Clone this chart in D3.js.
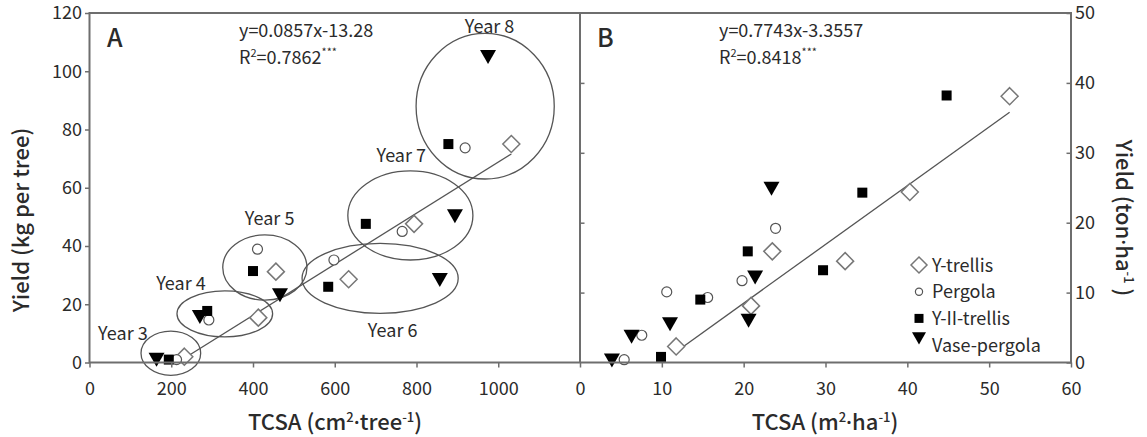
<!DOCTYPE html>
<html>
<head>
<meta charset="utf-8">
<script src="https://cdn.jsdelivr.net/npm/d3@7"></script>
<style>
  body { margin: 0; background: #fff; }
  svg text { font-family: "Noto Sans CJK KR", "Noto Sans", sans-serif; fill: #2b2b2b; }
</style>
</head>
<body>
<svg id="chart" width="1147" height="437"></svg>
<script>
// ---- data ----
// panel A: TCSA (cm2/tree) vs yield (kg/tree), years 3..8
const seriesNames = ['Y-trellis', 'Pergola', 'Y-II-trellis', 'Vase-pergola'];
const symbolKeys = ['diamond', 'circle', 'square', 'triangle'];

const aYtrellis = [[232, 2], [413, 15.4], [456, 31.2], [634, 28.6], [794, 47.6], [1032, 75]];
const aPergola = [[213, 1], [292, 14.6], [411, 38.9], [598, 35.2], [765, 45], [919, 73.7]];
const aYIItrellis = [[194, 1], [288, 17.7], [400, 31.4], [584, 26], [676, 47.6], [878, 75]];
const aVasePergola = [[164, 1], [270, 15.7], [466, 23.2], [857, 28.4], [894, 50.3], [975, 105]];

// panel B: TCSA (m2/ha) vs yield (ton/ha)
const bYtrellis = [[11.75, 2.3], [20.9, 8.1], [23.5, 15.9], [32.4, 14.5], [40.3, 24.4], [52.5, 38.1]];
const bPergola = [[5.4, 0.4], [7.55, 3.9], [10.6, 10.1], [15.6, 9.3], [19.8, 11.7], [23.9, 19.2]];
const bYIItrellis = [[9.9, 0.8], [14.7, 9.0], [20.5, 15.9], [29.7, 13.2], [34.5, 24.3], [44.8, 38.2]];
const bVasePergola = [[3.9, 0.3], [6.3, 3.7], [11.0, 5.5], [20.6, 6.0], [21.4, 12.2], [23.4, 24.9]];

// fitted lines (end points)
const fitA = [[228, 1.1], [1032, 71.6]];
const fitB = [[11.75, 1.55], [52.5, 35.8]];
const eqA = ['y=0.0857x-13.28', '0.7862'];
const eqB = ['y=0.7743x-3.3557', '0.8418'];

// year groupings in panel A (centre x, centre y, radius x, radius y) in data units
const yearLabels = ['Year 3', 'Year 4', 'Year 5', 'Year 6', 'Year 7', 'Year 8'];
const yearEllipses = [[199, 3.2, 73, 7.6], [331, 16.7, 117, 7.9], [429, 32.6, 103, 11.2],
                      [711, 28.9, 191, 12], [785, 50.5, 153, 15.3], [968, 88, 169, 25]];
const yearLabelAt = [[21, 7.7], [163, 24.9], [380, 47.3], [681, 8.9], [702, 69], [918, 113.2]];

const xTicksA = [0, 200, 400, 600, 800, 1000];
const yTicksA = [0, 20, 40, 60, 80, 100, 120];
const xTicksB = [0, 10, 20, 30, 40, 50, 60];
const yTicksB = [0, 10, 20, 30, 40, 50];

// ---- layout ----
const plotTop = 13, plotBottom = 362.5, plotLeft = 89.5, plotMid = 580, plotRight = 1071;
const axisColor = '#6e6e6e';

const svg = d3.select('#chart');

const xA = d3.scaleLinear().domain([0, 1200]).range([plotLeft, plotMid]);
const yA = d3.scaleLinear().domain([0, 120]).range([plotBottom, plotTop]);
const xB = d3.scaleLinear().domain([0, 60]).range([plotMid, plotRight]);
const yB = d3.scaleLinear().domain([0, 50]).range([plotBottom, plotTop]);

// marker shapes
const shapes = {
  diamond: (g, s) => g.append('path').attr('d', 'M0,' + (-s) + 'L' + s + ',0L0,' + s + 'L' + (-s) + ',0Z')
    .attr('fill', '#fff').attr('stroke', '#777').attr('stroke-width', 1.5),
  circle: (g, s) => g.append('circle').attr('r', s)
    .attr('fill', '#fff').attr('stroke', '#555').attr('stroke-width', 1.2),
  square: (g, s) => g.append('rect').attr('x', -s).attr('y', -s).attr('width', 2 * s).attr('height', 2 * s)
    .attr('fill', '#000'),
  triangle: (g, s) => g.append('path').attr('d', 'M' + (-s) + ',' + (-s * 0.85) + 'L' + s + ',' + (-s * 0.85) + 'L0,' + (s * 0.9) + 'Z')
    .attr('fill', '#000')
};
const plotSizes = { diamond: 8.5, circle: 5, square: 5, triangle: 8 };
const legendSizes = { diamond: 8, circle: 3.6, square: 4.5, triangle: 7 };

// ---- annotations in panel A (behind the points) ----
const annA = svg.append('g');
annA.selectAll('ellipse')
  .data(yearEllipses)
  .join('ellipse')
  .attr('cx', d => xA(d[0]))
  .attr('cy', d => yA(d[1]))
  .attr('rx', d => xA(d[2]) - xA(0))
  .attr('ry', d => yA(0) - yA(d[3]))
  .attr('fill', 'none')
  .attr('stroke', '#555')
  .attr('stroke-width', 1.3);

annA.selectAll('text')
  .data(yearLabels)
  .join('text')
  .attr('x', (d, i) => xA(yearLabelAt[i][0]))
  .attr('y', (d, i) => yA(yearLabelAt[i][1]))
  .attr('font-size', 18)
  .text(d => d);

// fit lines
const line = (x, y) => d3.line().x(d => x(d[0])).y(d => y(d[1]));
svg.append('path').attr('d', line(xA, yA)(fitA))
  .attr('fill', 'none').attr('stroke', '#555').attr('stroke-width', 1.3);
svg.append('path').attr('d', line(xB, yB)(fitB))
  .attr('fill', 'none').attr('stroke', '#555').attr('stroke-width', 1.3);

// ---- points ----
function drawPoints(seriesList, x, y) {
  seriesList.forEach((pts, i) => {
    const key = symbolKeys[i];
    pts.forEach(p => {
      const g = svg.append('g').attr('transform', `translate(${x(p[0])},${y(p[1])})`);
      shapes[key](g, plotSizes[key]);
    });
  });
}
drawPoints([aYtrellis, aPergola, aYIItrellis, aVasePergola], xA, yA);
drawPoints([bYtrellis, bPergola, bYIItrellis, bVasePergola], xB, yB);

// ---- axes ----
function styleAxis(g) {
  g.select('.domain').remove();
  g.selectAll('.tick line').attr('stroke', axisColor).attr('stroke-width', 1.5);
  g.selectAll('.tick text').attr('font-size', 18).attr('fill', '#2b2b2b')
    .style('font-family', '"Noto Sans CJK KR", "Noto Sans", sans-serif');
}
const fmt = d3.format('d');

svg.append('g').attr('transform', `translate(0,${plotBottom})`)
  .call(d3.axisBottom(xA).tickValues(xTicksA).tickFormat(fmt).tickSizeInner(5).tickSizeOuter(0).tickPadding(15))
  .call(styleAxis);
svg.append('g').attr('transform', `translate(0,${plotBottom})`)
  .call(d3.axisBottom(xB).tickValues(xTicksB).tickFormat(fmt).tickSizeInner(5).tickSizeOuter(0).tickPadding(15))
  .call(styleAxis);
svg.append('g').attr('transform', `translate(${plotLeft},0)`)
  .call(d3.axisLeft(yA).tickValues(yTicksA).tickFormat(fmt).tickSizeInner(4.5).tickSizeOuter(0).tickPadding(3))
  .call(styleAxis);
svg.append('g').attr('transform', `translate(${plotRight},0)`)
  .call(d3.axisRight(yB).tickValues(yTicksB).tickFormat(fmt).tickSizeInner(-4.5).tickSizeOuter(0).tickPadding(4))
  .call(styleAxis);
// inner ticks of panel B on the divider
svg.append('g').attr('transform', `translate(${plotMid},0)`)
  .call(d3.axisRight(yB).tickValues(yTicksB.slice(1, -1)).tickSizeInner(4.5).tickSizeOuter(0).tickFormat(''))
  .call(styleAxis);

// frame
const frame = svg.append('g').attr('stroke', axisColor).attr('stroke-width', 2).attr('fill', 'none');
frame.append('rect').attr('x', plotLeft).attr('y', plotTop)
  .attr('width', plotRight - plotLeft).attr('height', plotBottom - plotTop);
frame.append('line').attr('x1', plotMid).attr('x2', plotMid).attr('y1', plotTop).attr('y2', plotBottom);

// ---- texts ----
svg.append('text').attr('x', 107).attr('y', 47).attr('font-size', 25).attr('font-weight', 500).text('A');
svg.append('text').attr('x', 597).attr('y', 47).attr('font-size', 25).attr('font-weight', 500).text('B');

function equation(x, eq) {
  svg.append('text').attr('x', x).attr('y', 37).attr('font-size', 18).text(eq[0]);
  const t = svg.append('text').attr('x', x).attr('y', 64).attr('font-size', 18);
  t.append('tspan').text('R');
  t.append('tspan').attr('dy', -7).attr('font-size', 11).text('2');
  t.append('tspan').attr('dy', 7).text('=' + eq[1]);
  t.append('tspan').attr('dy', -8).attr('font-size', 11).text('***');
}
equation(239, eqA);
equation(719, eqB);

// parts: plain strings, ['sup', '...'] raised, or ['dot'] for a narrow middle dot
function titleText(x, y, rot, parts) {
  const g = svg.append('text').attr('transform', `translate(${x},${y}) rotate(${rot})`)
    .attr('text-anchor', 'middle').attr('font-size', 22).attr('font-weight', 500);
  let raised = false;
  parts.forEach(p => {
    let ts;
    if (Array.isArray(p) && p[0] === 'sup') {
      ts = g.append('tspan').attr('font-size', 13).text(p[1]);
      if (!raised) ts.attr('dy', -8);
      raised = true;
      return;
    }
    if (Array.isArray(p) && p[0] === 'dot') {
      ts = g.append('tspan').style('font-family', '"Noto Sans", sans-serif').text('\u00b7');
    } else {
      ts = g.append('tspan').text(p);
    }
    if (raised) { ts.attr('dy', 8); raised = false; }
  });
}
titleText(335, 430, 0, ['TCSA (cm', ['sup', '2'], ['dot'], 'tree', ['sup', '-1'], ')']);
titleText(825, 430, 0, ['TCSA (m', ['sup', '2'], ['dot'], 'ha', ['sup', '-1'], ')']);
titleText(29, 220, -90, ['Yield (kg per tree)']);
titleText(1116, 218, 90, ['Yield (ton', ['dot'], 'ha', ['sup', '-1'], ' )']);

// ---- legend ----
const legend = svg.append('g').attr('transform', 'translate(918,265)');
seriesNames.forEach((name, i) => {
  const row = legend.append('g').attr('transform', `translate(0,${i * 26.7})`);
  const key = symbolKeys[i];
  const m = row.append('g').attr('transform', key === 'triangle' ? 'translate(1,-7)' : 'translate(1,0)');
  shapes[key](m, legendSizes[key]);
  row.append('text').attr('x', 14).attr('y', 6.5).attr('font-size', 18).text(name);
});
</script>
</body>
</html>
